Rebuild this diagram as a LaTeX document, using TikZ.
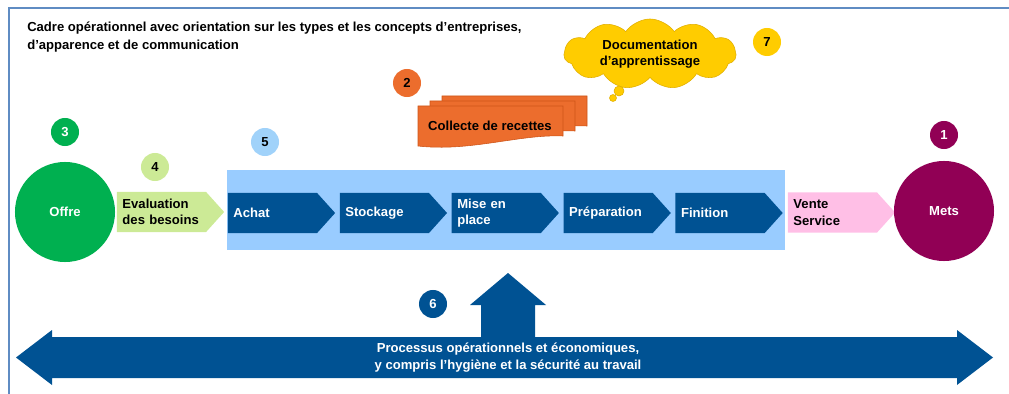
\documentclass[tikz,border=0pt]{standalone}
\usepackage{fontspec}
\setmainfont{Liberation Sans}
\usepackage{xcolor}
\usepackage{tikz}
\usetikzlibrary{positioning}
\usetikzlibrary{shapes.symbols}
\definecolor{frameblue}{RGB}{95,140,195}
\definecolor{navy}{RGB}{0,82,147}
\definecolor{skyblue}{RGB}{153,204,255}
\definecolor{paleblue}{RGB}{160,210,250}
\definecolor{leafgreen}{RGB}{0,176,80}
\definecolor{limegreen}{RGB}{204,234,150}
\definecolor{tangerine}{RGB}{236,109,45}
\definecolor{tangerinedark}{RGB}{205,85,25}
\definecolor{sunflower}{RGB}{255,204,0}
\definecolor{sunflowerdark}{RGB}{225,175,0}
\definecolor{blossom}{RGB}{255,191,230}
\definecolor{plum}{RGB}{145,0,85}

\begin{document}
\begin{tikzpicture}[x=0.025cm,y=-0.025cm,font=\fontsize{9.3}{11.5}\selectfont\bfseries]
	\tikzstyle{numdot} = [circle,minimum size=0.7cm,inner sep=0pt]
	\tikzstyle{bigdot} = [circle,minimum size=2.5cm,inner sep=0pt,text=white]
	\tikzstyle{stepbox} = [signal,signal to=east,signal pointer angle=96,minimum height=1cm,
		text width=1.95cm,inner xsep=0.14cm,inner ysep=0pt,align=left,node distance=0.1cm]

	\useasboundingbox (0,0) rectangle (1009,394);

	% Draw the frame.
	\draw[frameblue,line width=1.2pt] (9,394) -- (9,8) -- (1009,8);

	% Title
	\node[anchor=north west,align=left,inner sep=0pt,font=\fontsize{9.3}{12.8}\selectfont\bfseries]
		(title) at (27,22) {Cadre opérationnel avec orientation sur les types et les concepts d'entreprises,\\d'apparence et de communication};

	% Learning material
	\node[cloud,cloud puffs=11,cloud puff arc=110,cloud ignores aspect,fill=sunflower,draw=sunflowerdark,
		minimum width=4.3cm,minimum height=1.75cm,inner sep=0pt,align=center] (docu) at (650,54)
		{Documentation\\d'apprentissage};
	\draw[fill=sunflower,draw=sunflowerdark] (619,91) circle (5);
	\draw[fill=sunflower,draw=sunflowerdark] (613,98) circle (3.5);
	\node[numdot,fill=sunflower] (n7) at (767,42) {7};

	% Recipe collection
	\node[numdot,fill=tangerine] (n2) at (407,83) {2};
	\foreach \dx/\dy in {24/-10,12/-5,0/0}
	{
		\draw[fill=tangerine,draw=tangerinedark] (418+\dx,106+\dy) -- (563+\dx,106+\dy) -- (563+\dx,136+\dy)
			.. controls (520+\dx,134+\dy) and (470+\dx,152+\dy) .. (418+\dx,146+\dy) -- cycle;
	}
	\node (recettes) at (490,126) {Collecte de recettes};

	% Offer and needs
	\node[numdot,fill=leafgreen,text=white] (n3) at (65,132) {3};
	\node[bigdot,fill=leafgreen] (offre) at (65,212) {Offre};
	\node[numdot,fill=limegreen] (n4) at (155,167) {4};
	\node[stepbox,fill=limegreen] (besoins) at (161.5,212) {Evaluation\\des besoins};

	% Process chain
	\node[numdot,fill=paleblue] (n5) at (265,142) {5};
	\node[fill=skyblue,minimum width=13.95cm,minimum height=2cm,inner sep=0pt] (chain) at (506,210) {};
	\node[stepbox,fill=navy,text=white] (achat) at (272.5,213) {Achat};
	\node[stepbox,fill=navy,text=white,right=of achat] (stockage) {Stockage};
	\node[stepbox,fill=navy,text=white,right=of stockage] (miseenplace) {Mise en\\place};
	\node[stepbox,fill=navy,text=white,right=of miseenplace] (preparation) {Préparation};
	\node[stepbox,fill=navy,text=white,right=of preparation] (finition) {Finition};

	% Sale and dishes
	\node[stepbox,fill=blossom] (vente) at (832.5,212.5) {Vente\\Service};
	\node[numdot,fill=plum,text=white] (n1) at (944,135) {1};
	\node[bigdot,fill=plum] (mets) at (944,211) {Mets};

	% Operational processes: double arrow with the upward arrow
	\fill[navy] (16,357.5) -- (52,330) -- (52,337) -- (481,337) -- (481,305) -- (470,305) -- (508,273)
		-- (546,305) -- (535,305) -- (535,337) -- (957,337) -- (957,330) -- (993,357.5)
		-- (957,385) -- (957,378) -- (52,378) -- (52,385) -- cycle;
	\node[text=white,align=center,font=\fontsize{9.3}{12}\selectfont\bfseries] (processus) at (508,357.5)
		{Processus opérationnels et économiques,\\y compris l'hygiène et la sécurité au travail};
	\node[numdot,fill=navy,text=white] (n6) at (433,304) {6};

\end{tikzpicture}
\end{document}
